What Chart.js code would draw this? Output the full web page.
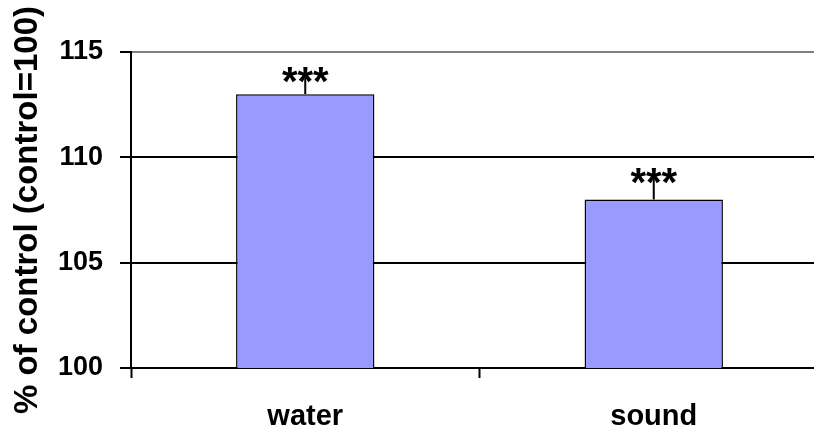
<!DOCTYPE html>
<html>
<head>
<meta charset="utf-8">
<script src="https://cdn.jsdelivr.net/npm/chart.js@4/dist/chart.umd.min.js"></script>
<style>
html,body{margin:0;padding:0;overflow:hidden;background:#fff;}
#wrap{width:828px;height:433px;}
</style>
</head>
<body>
<div id="wrap"><canvas id="c" width="828" height="433"></canvas></div>
<script>
const categories = ["water", "sound"];
const values = [113, 108];
const errors = [0.8, 1.0];
const markers = ["***", "***"];
const yTicks = [100, 105, 110, 115];
const yTitle = "% of control (control=100)";

const FONT = "'Liberation Sans', Arial, sans-serif";

const errPlugin = {
  id: 'errAndStars',
  afterDatasetsDraw(chart) {
    const ctx = chart.ctx;
    const meta = chart.getDatasetMeta(0);
    const y = chart.scales.y;
    ctx.save();
    meta.data.forEach((bar, i) => {
      const x = bar.x;
      const top = y.getPixelForValue(values[i] + errors[i]);
      const base = y.getPixelForValue(values[i]);
      ctx.strokeStyle = '#000';
      ctx.lineWidth = 2;
      ctx.beginPath();
      ctx.moveTo(x, base);
      ctx.lineTo(x, top);
      ctx.stroke();
      ctx.font = "bold 40px " + FONT;
      ctx.fillStyle = '#000';
      ctx.textAlign = 'center';
      ctx.textBaseline = 'alphabetic';
      const m = ctx.measureText(markers[i]);
      const center = top - 2.5;
      const baseline = center + (m.actualBoundingBoxAscent - m.actualBoundingBoxDescent) / 2;
      ctx.fillText(markers[i], x, baseline);
    });
    ctx.restore();
  }
};

new Chart(document.getElementById('c'), {
  type: 'bar',
  data: {
    labels: categories,
    datasets: [{
      data: values,
      backgroundColor: '#9999FF',
      borderColor: '#000',
      borderWidth: 1.5,
      categoryPercentage: 1,
      barPercentage: 0.397
    }]
  },
  options: {
    responsive: false,
    animation: false,
    events: [],
    layout: { padding: { top: 52, left: 0, right: 0, bottom: 0 } },
    plugins: { legend: { display: false }, tooltip: { enabled: false } },
    scales: {
      x: {
        offset: true,
        grid: {
          offset: true,
          drawOnChartArea: false,
          drawTicks: true,
          tickLength: 10,
          tickColor: '#000',
          tickWidth: 2
        },
        border: { color: '#000', width: 2 },
        ticks: {
          color: '#000',
          font: { family: FONT, size: 29, weight: 'bold' },
          padding: 22,
          maxRotation: 0
        },
        afterFit(scale) { scale.height = 65; }
      },
      y: {
        min: 100,
        max: 115,
        afterBuildTicks(scale) { scale.ticks = yTicks.map(v => ({ value: v })); },
        grid: {
          color: ctx => (ctx.tick && ctx.tick.value === 115) ? '#808080' : '#000',
          lineWidth: 2,
          tickColor: '#000',
          tickLength: 11,
          tickWidth: 2
        },
        border: { color: '#000', width: 2 },
        ticks: {
          color: '#000',
          font: { family: FONT, size: 27, weight: 'bold' },
          padding: 17
        },
        title: {
          display: true,
          text: yTitle,
          color: '#000',
          font: { family: FONT, size: 33, weight: 'bold' },
          padding: { top: 8, bottom: 0 }
        },
        afterFit(scale) { scale.width = 131; }
      }
    }
  },
  plugins: [errPlugin]
});
</script>
</body>
</html>
